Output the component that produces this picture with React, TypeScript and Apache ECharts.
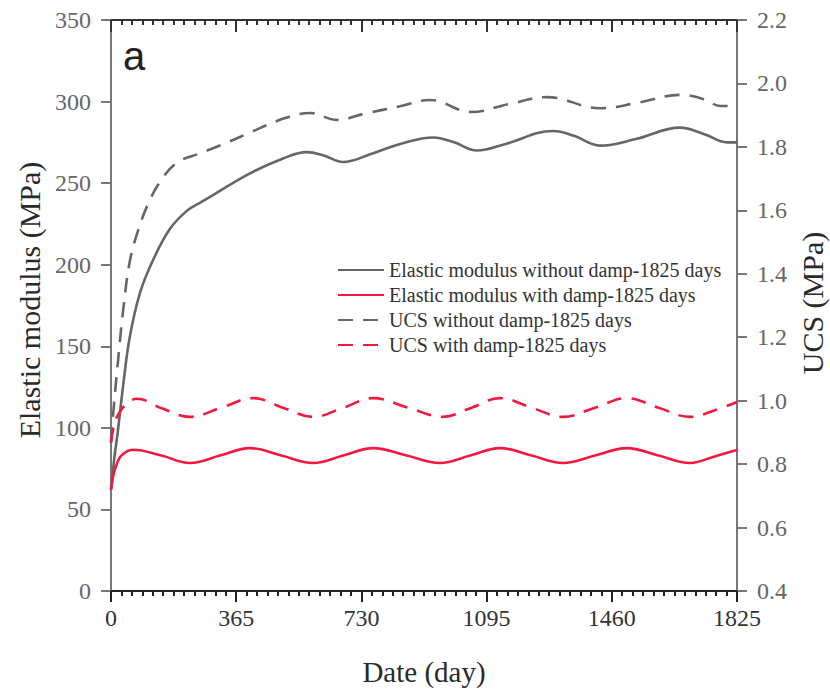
import React, { useEffect, useRef } from "react";
import * as echarts from "echarts";

// ---- data ----
const xTicks = [0, 365, 730, 1095, 1460, 1825];

const emWithoutDays = [0, 10, 20, 36, 55, 85, 123, 172, 221, 260, 300, 405, 500, 571, 620, 676, 760, 843, 940, 1000, 1067, 1150, 1289, 1350, 1426, 1530, 1659, 1730, 1796, 1825];
const emWithoutVals = [62, 82, 98, 127, 156, 183, 203, 222, 233, 238, 243, 256, 265, 269, 267, 263, 268, 274, 278, 275, 270, 274, 282, 279, 273, 277, 284, 280, 275, 275];

const emWithDays = [0, 6, 12, 26, 45, 64, 147, 230, 318, 405, 497, 589, 677, 764, 862, 959, 1047, 1134, 1226, 1318, 1411, 1504, 1596, 1688, 1760, 1825];
const emWithVals = [62, 70, 75, 82, 85.5, 86.6, 83, 78.5, 83, 87.6, 83, 78.5, 83, 87.6, 83, 78.5, 83, 87.6, 83, 78.5, 83, 87.6, 83, 78.5, 82.5, 86.4];

const ucsWithoutDays = [0, 8, 20, 36, 55, 80, 108, 143, 192, 260, 330, 405, 480, 551, 580, 659, 740, 843, 930, 1050, 1160, 1271, 1426, 1540, 1659, 1730, 1776, 1825];
const ucsWithoutVals = [0.87, 0.98, 1.12, 1.29, 1.44, 1.54, 1.62, 1.69, 1.75, 1.78, 1.81, 1.845, 1.88, 1.904, 1.907, 1.885, 1.905, 1.928, 1.948, 1.91, 1.935, 1.957, 1.922, 1.94, 1.964, 1.95, 1.929, 1.929];

const ucsWithDays = [0, 8, 17, 41, 76, 150, 230, 322, 414, 501, 589, 678, 764, 866, 968, 1051, 1134, 1226, 1318, 1411, 1504, 1596, 1688, 1760, 1825];
const ucsWithVals = [0.867, 0.92, 0.948, 0.986, 1.006, 0.975, 0.949, 0.978, 1.008, 0.978, 0.949, 0.978, 1.008, 0.978, 0.949, 0.978, 1.008, 0.978, 0.949, 0.978, 1.008, 0.978, 0.949, 0.97, 0.996];

const seriesNames = [
  "Elastic modulus without damp-1825 days",
  "Elastic modulus with damp-1825 days",
  "UCS without damp-1825 days",
  "UCS with damp-1825 days",
];

const xAxisName = "Date (day)";
const leftAxisName = "Elastic modulus (MPa)";
const rightAxisName = "UCS (MPa)";
const panelLabel = "a";

const pair = (d: number[], v: number[]) => d.map((x, i) => [x, v[i]]);

const SERIF = "Liberation Serif";
const GRAY = "#666666";
const RED = "#f2193d";

export default function App() {
  const ref = useRef<HTMLDivElement>(null);
  useEffect(() => {
    if (!ref.current) return;
    const chart = echarts.init(ref.current, null, { renderer: "svg" });
    const dash = [15, 10];
    const nameStyle = (text: string, size: number) => ({
      text,
      fontFamily: SERIF,
      fontSize: size,
      fontWeight: "normal",
      fill: "#2a2a2a",
      align: "center",
      verticalAlign: "middle",
      textAlign: "center",
      textVerticalAlign: "middle",
    });
    chart.setOption({
      animation: false,
      backgroundColor: "#ffffff",
      textStyle: { fontFamily: SERIF },
      grid: { left: 111, right: 93, top: 20, bottom: 99, containLabel: false },
      graphic: [
        {
          type: "text",
          left: 123,
          top: 36,
          style: { text: panelLabel, fontFamily: "Liberation Sans", fontSize: 40, fill: "#222" },
        },
        { type: "text", x: 424, y: 672, style: nameStyle(xAxisName, 29) },
        { type: "text", x: 29, y: 300, rotation: Math.PI / 2, style: nameStyle(leftAxisName, 30) },
        { type: "text", x: 812, y: 303, rotation: Math.PI / 2, style: nameStyle(rightAxisName, 30) },
      ],
      legend: {
        orient: "vertical",
        left: 332,
        top: 255,
        itemWidth: 46,
        itemHeight: 14,
        itemGap: 5,
        itemStyle: { opacity: 0 },
        textStyle: { fontFamily: SERIF, fontSize: 20, color: "#333", lineHeight: 19 },
        data: seriesNames,
      },
      xAxis: [
        {
          type: "value",
          position: "bottom",
          min: xTicks[0],
          max: xTicks[xTicks.length - 1],
          interval: 365,
          axisLine: { show: true, onZero: false, lineStyle: { color: "#222", width: 2 } },
          axisTick: { show: true, inside: false, length: 11, lineStyle: { color: "#222", width: 2 } },
          minorTick: { show: true, splitNumber: 12, length: 5, lineStyle: { color: "#222", width: 2 } },
          axisLabel: {
            fontFamily: SERIF,
            fontSize: 24,
            color: "#333",
            margin: 15,
            formatter: (v: number) => String(v),
          },
          splitLine: { show: false },
          minorSplitLine: { show: false },
        },
        {
          type: "value",
          position: "top",
          min: xTicks[0],
          max: xTicks[xTicks.length - 1],
          interval: 365,
          axisLine: { show: true, onZero: false, lineStyle: { color: "#333", width: 2 } },
          axisTick: { show: true, inside: true, length: 12, lineStyle: { color: "#333", width: 2 } },
          minorTick: { show: true, splitNumber: 12, length: 5, lineStyle: { color: "#333", width: 2 } },
          axisLabel: { show: false },
          splitLine: { show: false },
          minorSplitLine: { show: false },
        },
      ],
      yAxis: [
        {
          type: "value",
          position: "left",
          min: 0,
          max: 350,
          interval: 50,
          axisLine: { show: true, onZero: false, lineStyle: { color: "#777", width: 2 } },
          axisTick: { show: true, inside: false, length: 10, lineStyle: { color: "#777", width: 2 } },
          axisLabel: { fontFamily: SERIF, fontSize: 24, color: GRAY, margin: 20 },
          splitLine: { show: false },
        },
        {
          type: "value",
          position: "right",
          min: 0.4,
          max: 2.2,
          interval: 0.2,
          axisLine: { show: true, onZero: false, lineStyle: { color: "#777", width: 2 } },
          axisTick: { show: true, inside: false, length: 10, lineStyle: { color: "#777", width: 2 } },
          axisLabel: {
            fontFamily: SERIF,
            fontSize: 24,
            color: GRAY,
            margin: 20,
            formatter: (v: number) => v.toFixed(1),
          },
          splitLine: { show: false },
        },
      ],
      series: [
        {
          name: seriesNames[0],
          type: "line",
          xAxisIndex: 0,
          yAxisIndex: 0,
          symbol: "none",
          smooth: 0.4,
          data: pair(emWithoutDays, emWithoutVals),
          lineStyle: { color: GRAY, width: 2.6 },
          itemStyle: { color: GRAY },
        },
        {
          name: seriesNames[1],
          type: "line",
          xAxisIndex: 0,
          yAxisIndex: 0,
          symbol: "none",
          smooth: 0.4,
          data: pair(emWithDays, emWithVals),
          lineStyle: { color: RED, width: 2.6 },
          itemStyle: { color: RED },
        },
        {
          name: seriesNames[2],
          type: "line",
          xAxisIndex: 0,
          yAxisIndex: 1,
          symbol: "none",
          smooth: 0.4,
          data: pair(ucsWithoutDays, ucsWithoutVals),
          lineStyle: { color: GRAY, width: 2.6, type: dash },
          itemStyle: { color: GRAY },
        },
        {
          name: seriesNames[3],
          type: "line",
          xAxisIndex: 0,
          yAxisIndex: 1,
          symbol: "none",
          smooth: 0.4,
          data: pair(ucsWithDays, ucsWithVals),
          lineStyle: { color: RED, width: 2.6, type: dash },
          itemStyle: { color: RED },
        },
      ],
    });
    return () => chart.dispose();
  }, []);
  return (
    <div
      ref={ref}
      style={{ position: "fixed", left: 0, top: 0, width: 830, height: 690, background: "#fff" }}
    />
  );
}
